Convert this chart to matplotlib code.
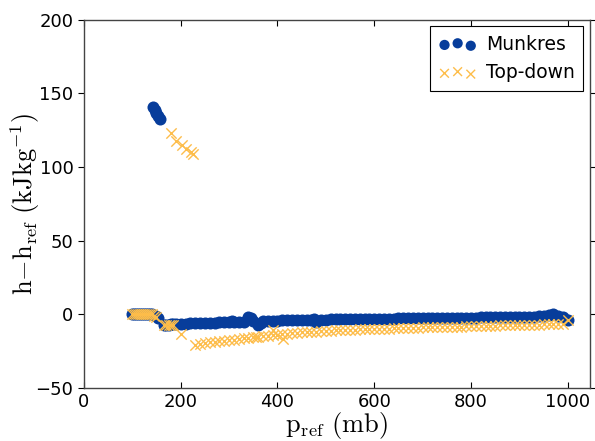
import matplotlib
matplotlib.use("Agg")
import matplotlib.pyplot as plt

plt.rcParams['mathtext.fontset'] = 'cm'
plt.rcParams['font.family'] = 'DejaVu Sans'

# ---- Munkres (blue circles) ----
munkres_p = [100, 104, 108, 112, 116, 120, 124, 128, 132, 136, 140,
             142, 146, 150, 154, 158,
             150, 154,
             165, 170, 175, 180, 185,
             190, 200, 210, 220, 230, 240, 250, 260, 270, 280, 290, 300,
             305, 310, 320, 330, 340, 345, 350, 360, 365, 370, 380, 390,
             400, 410, 420, 430, 440, 450, 460, 470, 475, 480, 490, 500,
             510, 520, 530, 540, 550, 560, 570, 580, 590, 600, 610, 620,
             630, 640, 650, 660, 670, 680, 690, 700, 710, 720, 730, 740,
             750, 760, 770, 780, 790, 800, 810, 820, 830, 840, 850, 860,
             870, 880, 890, 900, 910, 920, 930, 940, 950, 960, 970, 980,
             990, 1000]
munkres_h = [0.4, 0.5, 0.3, 0.4, 0.5, 0.4, 0.3, 0.5, 0.4, 0.3, 0.2,
             141, 139, 137, 135, 133,
             -1.0, -2.5,
             -7.0, -7.2, -7.0, -6.8, -6.7,
             -6.6, -6.4, -6.3, -6.1, -6.0, -5.8, -5.7, -5.6, -5.5, -5.3, -5.2, -5.1,
             -4.5, -5.0, -4.9, -4.8, -1.5, -2.5, -4.6, -7.2, -5.5, -4.5, -4.4, -4.3,
             -4.2, -4.1, -4.0, -3.9, -3.9, -3.8, -3.8, -3.7, -2.8, -4.8, -3.6, -3.5,
             -3.4, -3.4, -3.3, -3.3, -3.2, -3.2, -3.1, -3.1, -3.0, -3.0, -2.9, -2.9,
             -2.8, -2.8, -2.7, -2.7, -2.6, -2.6, -2.5, -2.5, -2.4, -2.4, -2.3, -2.3,
             -2.3, -2.2, -2.2, -2.2, -2.1, -2.1, -2.1, -2.0, -2.0, -2.0, -1.9, -1.9,
             -1.9, -1.8, -1.8, -1.8, -1.7, -1.6, -1.5, -1.2, -1.0, -0.2, 0.5, -0.8,
             -1.5, -4.0]

# ---- Top-down (orange crosses) ----
topdown_p = [100, 104, 108, 112, 116, 120, 124, 128, 132, 136, 140,
             145, 150,
             181, 191, 202, 212, 222, 226,
             165, 170, 175, 180, 185,
             200,
             230, 240, 250, 260, 270, 280, 290, 300, 310, 320, 330, 340,
             350, 356, 360, 370, 380, 390, 391, 400, 410, 412, 420, 430,
             440, 450, 460, 470, 480, 490, 500, 510, 520, 530, 540, 550,
             560, 570, 580, 590, 600, 610, 620, 630, 640, 650, 660, 670,
             680, 690, 700, 710, 720, 730, 740, 750, 760, 770, 780, 790,
             800, 810, 820, 830, 840, 850, 860, 870, 880, 890, 900, 910,
             920, 930, 940, 950, 960, 970, 980, 990, 1000]
topdown_h = [0.3, 0.4, 0.2, 0.5, 0.3, 0.4, 0.2, 0.3, 0.4, 0.2, 0.3,
             -1.0, -2.0,
             123, 118, 115, 112, 110, 109,
             -7.5, -7.2, -7.0, -7.3, -7.0,
             -13.5,
             -20.5, -20.0, -19.5, -19.0, -18.5, -18.2, -17.9, -17.5, -17.1, -16.7, -16.3, -15.9,
             -15.5, -15.0, -15.1, -14.8, -14.5, -14.1, -10.5, -13.8, -13.5, -16.5, -13.2, -12.9,
             -12.6, -12.2, -12.0, -11.8, -11.6, -11.4, -11.2, -11.0, -10.9, -10.7, -10.6, -10.5,
             -10.4, -10.2, -10.1, -10.0, -9.9, -9.8, -9.7, -9.6, -9.5, -9.3, -9.2, -9.1,
             -9.0, -8.9, -8.8, -8.7, -8.7, -8.6, -8.5, -8.4, -8.3, -8.3, -8.2, -8.1,
             -8.0, -7.9, -7.9, -7.8, -7.7, -7.6, -7.5, -7.5, -7.4, -7.3, -7.2, -7.1,
             -7.0, -7.0, -6.9, -6.8, -6.7, -6.6, -6.5, -6.4, -4.0]

fig = plt.figure(figsize=(5.95, 4.41), dpi=100, facecolor='white')
ax = fig.add_axes([0.141, 0.120, 0.850, 0.835])

ax.scatter(munkres_p, munkres_h, s=75, marker='o', color='#073d9b',
           linewidths=0, label='Munkres', zorder=2)
ax.scatter(topdown_p, topdown_h, s=55, marker='x', color='#fdbd4a',
           linewidths=1.0, label='Top-down', zorder=3)

ax.set_xlim(0, 1045)
ax.set_ylim(-50, 200)
ax.set_xticks([0, 200, 400, 600, 800, 1000])
ax.set_yticks([-50, 0, 50, 100, 150, 200])

ax.tick_params(axis='x', direction='in', top=True, bottom=True, labelsize=13, length=4)
ax.tick_params(axis='y', direction='out', left=True, right=True, labelsize=13, length=4)
for sp in ax.spines.values():
    sp.set_linewidth(1.0)
    sp.set_color('#444444')

ax.set_xlabel(r'$\mathrm{p_{ref}\ (mb)}$', fontsize=19, labelpad=-1)
ax.set_ylabel(r'$\mathrm{h{-}h_{ref}\ (kJkg^{-1})}$', fontsize=19)
ax.yaxis.set_label_coords(-0.083, 0.5)

leg = ax.legend(loc='upper right', scatterpoints=3, fontsize=13.5, fancybox=False,
                framealpha=1, edgecolor='black', borderpad=0.45, handletextpad=0.5,
                borderaxespad=0.35, markerscale=0.85)
leg.get_frame().set_linewidth(0.8)

fig.savefig('out.png', dpi=100, facecolor='white')
